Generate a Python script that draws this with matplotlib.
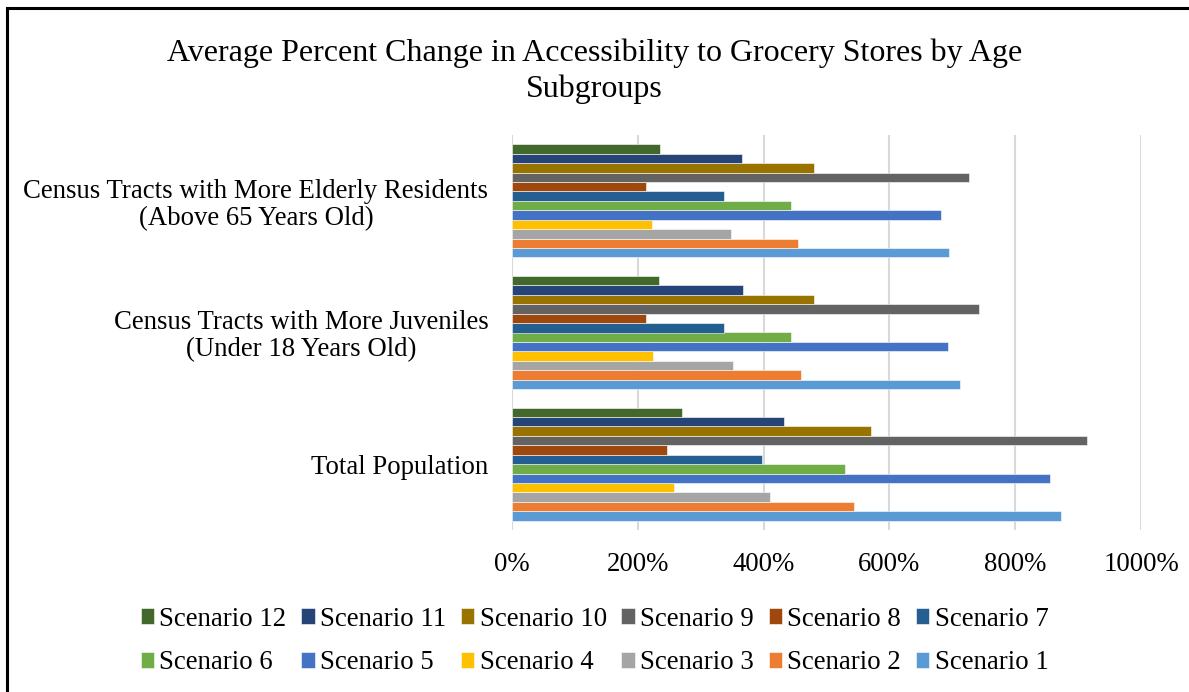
import matplotlib.pyplot as plt
import numpy as np
from matplotlib.patches import Rectangle
from matplotlib.ticker import FuncFormatter

plt.rcParams['font.family'] = ['Liberation Serif', 'DejaVu Serif']

# groups, bottom to top on the chart
groups = ["Total Population",
          "Census Tracts with More Juveniles\n(Under 18 Years Old)",
          "Census Tracts with More Elderly Residents\n(Above 65 Years Old)"]

scenarios = ["Scenario %d" % i for i in range(1, 13)]

# percent change per scenario (1..12), one list per group
total_pop = [873, 543, 410, 257, 856, 530, 398, 247, 914, 571, 432, 271]
juveniles = [713, 460, 352, 224, 693, 444, 337, 213, 742, 480, 368, 234]
elderly = [695, 455, 348, 222, 682, 443, 337, 213, 727, 480, 366, 235]

colors = ["#5B9BD5", "#ED7D31", "#A5A5A5", "#FFC000", "#4472C4", "#70AD47",
          "#255E91", "#9E480E", "#636363", "#997300", "#264478", "#43682B"]

values = np.array([total_pop, juveniles, elderly])  # shape (group, scenario)

fig = plt.figure(figsize=(11.89, 6.92), dpi=100)
ax = fig.add_axes([512 / 1189, 1 - 530 / 692, 629 / 1189, 395 / 692])

n = len(scenarios)
group_w = 0.86
bar_h = group_w / n
y = np.arange(len(groups))
handles = []
for i in range(n):
    pos = y - group_w / 2 + bar_h * (i + 0.5)
    h = ax.barh(pos, values[:, i], height=bar_h, color=colors[i],
                edgecolor='white', linewidth=0.4, label=scenarios[i], zorder=3)
    handles.append(h)

ax.set_xlim(0, 1000)
ax.set_ylim(-0.5, len(groups) - 0.5)
ax.set_xticks(range(0, 1001, 200))
ax.xaxis.set_major_formatter(FuncFormatter(lambda v, p: "%d%%" % v))
ax.grid(axis='x', color='#D9D9D9', linewidth=1.5, zorder=0)
for s in ax.spines.values():
    s.set_visible(False)
ax.tick_params(axis='both', length=0, labelsize=19.3)
ax.tick_params(axis='x', pad=16)
ax.tick_params(axis='y', pad=17)
ax.set_yticks(y)
ax.set_yticklabels(groups)
for lbl in ax.get_yticklabels():
    lbl.set_multialignment('center')
    lbl.set_linespacing(1.1)

fig.text(0.5, 1 - 71 / 692,
         "Average Percent Change in Accessibility to Grocery Stores by Age\nSubgroups",
         ha='center', va='center', fontsize=23, linespacing=1.3)

# legend: row 1 = Scenario 12..7, row 2 = Scenario 6..1
row1 = list(range(11, 5, -1))
row2 = list(range(5, -1, -1))
order = [k for pair in zip(row1, row2) for k in pair]
fig.legend([handles[k] for k in order], [scenarios[k] for k in order],
           ncol=6, loc='center', bbox_to_anchor=(0.5, 1 - 641 / 692),
           frameon=False, fontsize=19.3, handlelength=0.5, handleheight=0.5,
           handletextpad=0.2, columnspacing=0.55, labelspacing=0.7,
           borderpad=0)

# outer chart border
fig.patches.append(Rectangle((7 / 1189, -0.1), 1.2, 1 - 8 / 692 + 0.1,
                             transform=fig.transFigure, fill=False,
                             edgecolor='black', linewidth=2.2))

fig.savefig("out.png", dpi=100)
